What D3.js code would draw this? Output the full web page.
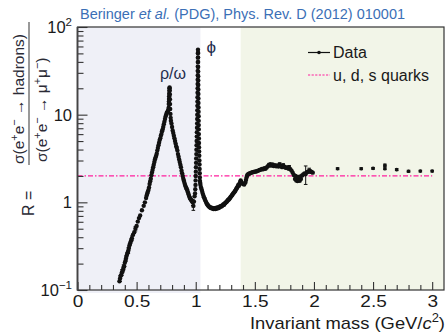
<!DOCTYPE html>
<html><head><meta charset="utf-8">
<script src="https://cdn.jsdelivr.net/npm/d3@7/dist/d3.min.js"></script>
<style>
body{margin:0;background:#fff}
svg{display:block;font-family:"Liberation Sans",Arial,Helvetica,sans-serif}
</style>
</head><body>
<svg id="chart" width="446" height="333"></svg>
<script>
// ---------- DATA (mass in GeV/c^2, R ratio, optional symmetric error) ----------
const rhoOmegaRegion = [
 [0.355,0.126],[0.360,0.135,0.01],[0.365,0.145],[0.370,0.148],[0.375,0.158,0.012],[0.380,0.162],
 [0.385,0.170],[0.390,0.182,0.012],[0.395,0.186],[0.400,0.204],[0.405,0.214],[0.410,0.229,0.015],
 [0.415,0.245],[0.420,0.257],[0.425,0.269],[0.430,0.282,0.02],[0.435,0.302],[0.440,0.324],
 [0.445,0.339],[0.450,0.355],[0.455,0.372],[0.460,0.389,0.025],[0.470,0.427],[0.480,0.457],
 [0.490,0.501,0.03],[0.500,0.537],[0.510,0.603],[0.520,0.661],[0.530,0.708],[0.545,0.813],
 [0.560,0.912],[0.570,1.00],[0.580,1.12],[0.585,1.20],[0.590,1.26],[0.595,1.32],[0.600,1.38],
 [0.605,1.48],[0.610,1.62],[0.615,1.74],[0.620,1.86],[0.625,2.04],[0.630,2.19],[0.635,2.34],
 [0.640,2.51],[0.645,2.69],[0.650,2.88],[0.655,3.09],[0.660,3.24],[0.665,3.39],[0.670,3.59],
 [0.675,3.89],[0.680,4.17],[0.685,4.47],[0.690,4.79],[0.695,5.13],[0.700,5.37],[0.705,5.75],
 [0.710,6.03],[0.715,6.46],[0.720,6.76],[0.725,7.24],[0.730,7.76],[0.735,8.32],[0.740,8.91],
 [0.745,9.55],[0.750,10.0],[0.755,10.5],[0.760,10.7],[0.765,11.0],[0.770,11.5],[0.771,12.0],
 [0.772,13.2],[0.773,14.1],[0.774,15.1],[0.775,16.2],[0.776,17.4],[0.777,18.6],[0.778,20.0],
 [0.779,20.4],[0.780,19.0],[0.781,17.0],[0.782,15.0],[0.783,13.2],[0.784,11.6],[0.786,10.2],
 [0.788,9.2],[0.790,8.51],[0.795,7.94],[0.800,7.24],[0.805,6.61],[0.810,6.17],[0.815,5.75],
 [0.820,5.37],[0.825,5.01],[0.830,4.68],[0.835,4.37],[0.840,4.17],[0.845,3.89],[0.850,3.55],
 [0.855,3.31],[0.860,3.09],[0.865,2.88],[0.870,2.69],[0.875,2.51],[0.880,2.29],[0.885,2.14],
 [0.890,2.00],[0.895,1.86],[0.900,1.76],[0.905,1.66],[0.910,1.58],[0.915,1.51],[0.920,1.46],
 [0.925,1.41],[0.930,1.35],[0.935,1.29],[0.940,1.23],[0.945,1.17],[0.950,1.12],[0.955,1.10],
 [0.960,1.07],[0.965,1.05],[0.970,1.02],[0.975,1.00,0.08]
];
const phiRegion = [
 [0.980,0.91,0.1],[0.985,1.02],[0.990,1.17],[0.994,1.26],[0.996,1.41],[0.998,1.58],[0.999,1.78],
 [1.000,2.00],[1.001,2.24],[1.002,2.51],[1.003,2.82],[1.004,3.16],[1.005,3.55],[1.006,3.98],
 [1.007,4.47],[1.008,5.01],[1.009,5.62],[1.010,6.31],[1.011,7.08],[1.012,7.94],[1.0125,8.91],
 [1.013,10.0],[1.0135,11.2],[1.014,12.6],[1.0145,14.1],[1.015,15.8],[1.0155,17.8],[1.016,20.0],
 [1.0163,22.4],[1.0166,25.1],[1.017,28.2],[1.0173,31.6],[1.0176,35.5],[1.018,39.8],[1.0183,44.7],
 [1.0186,50.1],[1.019,55.0],[1.0194,51.0],[1.0197,45.0],[1.020,40.0],[1.0203,35.0],[1.0206,31.0],
 [1.021,27.5],[1.0213,24.5],[1.0216,21.8],[1.022,19.4],[1.0223,17.2],[1.0226,15.3],[1.023,13.6],
 [1.0235,12.1],[1.024,10.8],[1.0245,9.6],[1.025,8.5],[1.0255,7.6],[1.026,6.8],[1.0265,6.0],
 [1.027,5.35],[1.0275,4.75],[1.028,4.25],[1.029,3.8],[1.030,3.4],[1.031,3.0],[1.032,2.7],
 [1.033,2.4],[1.034,2.15],[1.035,1.92],[1.036,1.75],[1.038,1.66],[1.040,1.58]
];
const continuumRegion = [
 [1.045,1.48],[1.050,1.40],[1.055,1.32],[1.060,1.25],[1.065,1.19],[1.070,1.14],[1.075,1.10],
 [1.080,1.06],[1.085,1.02],[1.090,0.99],[1.095,0.96],[1.100,0.94],[1.105,0.92],[1.110,0.90],
 [1.115,0.89],[1.120,0.88],[1.125,0.87],[1.130,0.86],[1.135,0.87],[1.140,0.85],[1.145,0.86],
 [1.150,0.84],[1.155,0.85],[1.160,0.86],[1.165,0.84],[1.170,0.85],[1.175,0.87],[1.180,0.85],
 [1.185,0.86],[1.190,0.88],[1.195,0.86],[1.200,0.88],[1.205,0.90],[1.210,0.89],[1.215,0.91],
 [1.220,0.90],[1.225,0.92],[1.230,0.93],[1.235,0.95],[1.240,0.94],[1.245,0.97],[1.250,0.98],
 [1.255,1.00],[1.260,1.01],[1.265,1.03],[1.270,1.05],[1.275,1.07],[1.280,1.08],[1.285,1.10],
 [1.290,1.12],[1.295,1.15],[1.300,1.17],[1.305,1.20],[1.310,1.22],[1.315,1.25],[1.320,1.28],
 [1.325,1.30],[1.330,1.33],[1.335,1.36],[1.340,1.40],[1.345,1.44],[1.350,1.47],[1.355,1.52],
 [1.360,1.58],[1.365,1.55],[1.370,1.62],[1.375,1.70],[1.380,1.78],[1.385,1.72],[1.390,1.66],
 [1.400,1.62],[1.410,1.60],[1.420,1.68],[1.425,1.80],[1.430,1.92],[1.435,2.02],[1.440,2.08],
 [1.450,2.12],[1.460,2.15],[1.470,2.18],[1.480,2.20],[1.490,2.22],[1.500,2.24],[1.510,2.25],
 [1.520,2.28],[1.530,2.30],[1.540,2.34],[1.550,2.36],[1.560,2.40],[1.570,2.38],[1.580,2.45],
 [1.590,2.42],[1.600,2.50],[1.610,2.58],[1.620,2.66,0.12],[1.630,2.72],[1.640,2.62],[1.650,2.70],
 [1.660,2.60],[1.670,2.66],[1.680,2.58],[1.690,2.64],[1.700,2.56],[1.710,2.68,0.15],[1.720,2.60],
 [1.730,2.52],[1.740,2.62,0.14],[1.750,2.55],[1.760,2.48],[1.770,2.50],[1.780,2.44],
 [1.790,2.48,0.15],[1.800,2.38],[1.810,2.30],[1.820,2.18],[1.830,2.05],[1.840,1.85],[1.845,2.00],
 [1.850,1.78],[1.860,1.75],[1.865,1.95],[1.870,1.80],[1.880,1.76],[1.885,1.98],[1.890,1.85],
 [1.900,2.02],[1.910,2.08],[1.920,2.14],[1.930,2.10,0.5],[1.940,2.20],[1.950,2.24],
 [1.960,2.30,0.15],[1.970,2.26],[1.980,2.22],[1.990,2.18]
];
const highMassPoints = [
 [2.2,2.42,0.06],[2.4,2.42,0.06],[2.5,2.44,0.06],[2.6,2.65,0.08],[2.6,2.42,0.06],
 [2.7,2.36,0.06],[2.8,2.26,0.06],[2.9,2.27,0.05],[3.0,2.27,0.05]
];
const quarkModelR = 2;            // u, d, s quarks: R = 3 * (4/9 + 1/9 + 1/9)
const quarkLineRange = [0, 3.0];
const lowMassBand = [0, 1.04];
const highMassBand = [1.38, 3.1];
const xDomain = [0, 3.1];
const yDomain = [0.1, 100];
const xMajorTicks = [0, 0.5, 1, 1.5, 2, 2.5, 3];
const xTickLabels = ["0", "0.5", "1", "1.5", "2", "2.5", "3"];
const yMajorTicks = [0.1, 1, 10, 100];
const yTickLabels = [["10","\u22121"], ["1",""], ["10",""], ["10","2"]];
const resonanceLabels = ["\u03c1/\u03c9", "\u03d5"];
const legendEntries = ["Data", "u, d, s quarks"];
const titleParts = [["Beringer ", "normal"], ["et al.", "italic"], [" (PDG), Phys. Rev. D (2012) 010001", "normal"]];

// ---------- CHART ----------
const svg = d3.select("#chart");
const L = 77.5, R = 444, T = 27, B = 290;
const x = d3.scaleLinear().domain(xDomain).range([L, R]);
const y = d3.scaleLog().domain(yDomain).range([B, T]);

function stretch(sel, f) {
  sel.each(function () {
    const len = this.getComputedTextLength();
    d3.select(this).attr("textLength", len * f).attr("lengthAdjust", "spacingAndGlyphs");
  });
}

// shaded bands
svg.append("rect").attr("x", x(lowMassBand[0])).attr("y", T)
  .attr("width", x(lowMassBand[1]) - x(lowMassBand[0])).attr("height", B - T + 3).attr("fill", "#eff0f7");
svg.append("rect").attr("x", x(highMassBand[0])).attr("y", T)
  .attr("width", x(highMassBand[1]) - x(highMassBand[0])).attr("height", B - T).attr("fill", "#f2f5e8");

// quark model line
svg.append("line").attr("x1", x(quarkLineRange[0])).attr("x2", x(quarkLineRange[1]))
  .attr("y1", y(quarkModelR)).attr("y2", y(quarkModelR))
  .attr("stroke", "#ff1f9e").attr("stroke-width", 1.2).attr("stroke-dasharray", "5,2,1.5,2");

// axes
const xMinor = d3.range(0, 31).map(i => i / 10).filter(v => !xMajorTicks.some(t => Math.abs(t - v) < 1e-9));
const xAxisMinor = d3.axisBottom(x).tickValues(xMinor).tickSize(-5).tickFormat("");
const xAxisMajor = d3.axisBottom(x).tickValues(xMajorTicks).tickSize(-8).tickPadding(4.5)
  .tickFormat((d, i) => xTickLabels[i]);
const gxm = svg.append("g").attr("transform", `translate(0,${B})`).call(xAxisMinor);
const gx = svg.append("g").attr("transform", `translate(0,${B})`).call(xAxisMajor);
[gxm, gx].forEach(g => { g.select(".domain").remove(); g.selectAll("line").attr("stroke", "#333").attr("stroke-width", 1.1); });
gx.selectAll("text").attr("font-size", 17).attr("fill", "#1a1a1a").attr("font-family", "Liberation Sans, Arial, sans-serif");
stretch(gx.selectAll("text"), 1.12);

const yMinor = [];
[0.1, 1, 10].forEach(dec => { for (let k = 2; k <= 9; k++) yMinor.push(dec * k); });
const yAxisMinor = d3.axisLeft(y).tickValues(yMinor).tickSize(-6).tickFormat("");
const yAxisMajor = d3.axisLeft(y).tickValues(yMajorTicks).tickSize(-10).tickFormat("");
const gym = svg.append("g").attr("transform", `translate(${L},0)`).call(yAxisMinor);
const gy = svg.append("g").attr("transform", `translate(${L},0)`).call(yAxisMajor);
[gym, gy].forEach(g => { g.select(".domain").remove(); g.selectAll("line").attr("stroke", "#333").attr("stroke-width", 1.1); });

// y tick labels with superscripts
yMajorTicks.forEach((v, i) => {
  const t = svg.append("text").attr("x", 72).attr("y", y(v) + 6).attr("text-anchor", "end")
    .attr("font-size", 16.5).attr("fill", "#1a1a1a");
  t.append("tspan").text(yTickLabels[i][0]);
  if (yTickLabels[i][1]) t.append("tspan").attr("dy", -7).attr("font-size", 11.5).text(yTickLabels[i][1]);
});

// frame
svg.append("rect").attr("x", L).attr("y", T).attr("width", R - L).attr("height", B - T)
  .attr("fill", "none").attr("stroke", "#333").attr("stroke-width", 1.2);
svg.append("line").attr("x1", L).attr("x2", L).attr("y1", T).attr("y2", B + 0.6)
  .attr("stroke", "#444").attr("stroke-width", 1.8);

// data points
const allData = [].concat(rhoOmegaRegion, phiRegion, continuumRegion, highMassPoints);
const gd = svg.append("g");
const withErr = allData.filter(d => d[2]);
gd.selectAll("line.eb").data(withErr).enter().append("line").attr("class", "eb")
  .attr("x1", d => x(d[0])).attr("x2", d => x(d[0]))
  .attr("y1", d => y(d[1] - d[2])).attr("y2", d => y(d[1] + d[2]))
  .attr("stroke", "#111").attr("stroke-width", 1);
["lo", "hi"].forEach(side => {
  gd.selectAll("line.cap" + side).data(withErr).enter().append("line").attr("class", "cap" + side)
    .attr("x1", d => x(d[0]) - 1.8).attr("x2", d => x(d[0]) + 1.8)
    .attr("y1", d => y(side === "lo" ? d[1] - d[2] : d[1] + d[2]))
    .attr("y2", d => y(side === "lo" ? d[1] - d[2] : d[1] + d[2]))
    .attr("stroke", "#111").attr("stroke-width", 1);
});
gd.selectAll("circle").data(allData).enter().append("circle")
  .attr("cx", d => x(d[0])).attr("cy", d => y(d[1])).attr("r", d => d[0] > 2.1 ? 1.8 : 2.2).attr("fill", "#111");

// resonance labels
svg.append("text").attr("x", 160).attr("y", 79).attr("font-size", 16)
  .attr("fill", "#1f2d4d").text(resonanceLabels[0]);
svg.append("text").attr("x", 206.5).attr("y", 53).attr("font-size", 17)
  .attr("fill", "#1f2d4d").text(resonanceLabels[1]);

// legend
const lg = svg.append("g");
lg.append("line").attr("x1", 308).attr("x2", 330).attr("y1", 52.5).attr("y2", 52.5).attr("stroke", "#111").attr("stroke-width", 1.2);
lg.append("circle").attr("cx", 319).attr("cy", 52.5).attr("r", 1.8).attr("fill", "#111");
lg.append("text").attr("x", 333).attr("y", 58).attr("font-size", 16).attr("fill", "#1a1a1a").text(legendEntries[0]);
lg.append("line").attr("x1", 308).attr("x2", 330).attr("y1", 75).attr("y2", 75).attr("stroke", "#ff1f9e")
  .attr("stroke-width", 1).attr("stroke-dasharray", "2.2,1.4");
lg.append("text").attr("x", 333).attr("y", 81).attr("font-size", 16).attr("fill", "#1a1a1a").text(legendEntries[1]);

// title
const tt = svg.append("text").attr("x", 80).attr("y", 19).attr("font-size", 14).attr("fill", "#3b6fb6");
titleParts.forEach(p => tt.append("tspan").attr("font-style", p[1]).text(p[0]));
tt.attr("textLength", 325).attr("lengthAdjust", "spacingAndGlyphs");

// x-axis title
const xt = svg.append("text").attr("x", 445).attr("y", 329).attr("text-anchor", "end").attr("font-size", 17).attr("fill", "#1a1a1a");
xt.append("tspan").text("Invariant mass (GeV/");
xt.append("tspan").attr("font-style", "italic").text("c");
xt.append("tspan").attr("dy", -7).attr("font-size", 12).text("2");
xt.append("tspan").attr("dy", 7).text(")");
xt.attr("textLength", 195).attr("lengthAdjust", "spacingAndGlyphs");

// y-axis title (rotated fraction)
function richText(g, parts, fs) {
  const t = g.append("text").attr("font-size", fs).attr("fill", "#2a2a35");
  parts.forEach(p => {
    const s = t.append("tspan").text(p[0]);
    if (p[1] === "sup") s.attr("dy", -6).attr("font-size", fs * 0.7);
    if (p[1] === "base") s.attr("dy", 6);
  });
  return t;
}
const yl = svg.append("g").attr("transform", "rotate(-90)");
richText(yl, [["R ="]], 16).attr("x", -216).attr("y", 34);
yl.append("line").attr("x1", -165).attr("x2", -22).attr("y1", 29).attr("y2", 29).attr("stroke", "#999").attr("stroke-width", 2);
richText(yl, [["\u03c3(e"], ["+","sup"], ["e","base"], ["\u2212","sup"], [" \u2192 hadrons)","base"]], 15.5).attr("x", -164).attr("y", 24);
richText(yl, [["\u03c3(e"], ["+","sup"], ["e","base"], ["\u2212","sup"], [" \u2192 \u03bc","base"], ["+","sup"], ["\u03bc","base"], ["\u2212","sup"], [")","base"]], 15.5).attr("x", -162).attr("y", 47);
</script>
</body></html>
